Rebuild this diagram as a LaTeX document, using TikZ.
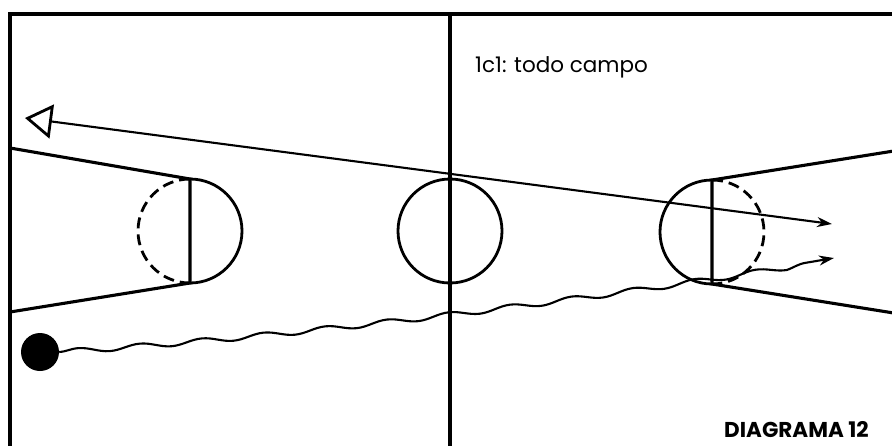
\documentclass[tikz,border=0pt]{standalone}
\usepackage{fontspec}
\setmainfont{Poppins}
\usetikzlibrary{arrows.meta,decorations.pathmorphing}

\begin{document}
\begin{tikzpicture}[x=1pt,y=-1pt,
    court/.style={line width=3.1pt},
    ring/.style={line width=2.8pt},
    halfdash/.style={ring,dash pattern=on 11pt off 6pt},
    pass/.style={line width=2.1pt},
    dribble/.style={line width=2.1pt,decorate,
        decoration={snake,amplitude=2.6pt,segment length=62pt,post length=14pt}}]
    \useasboundingbox (0,0) rectangle (892,445);

    \coordinate (topleft) at (10,14);
    \coordinate (topright) at (900,14);
    \coordinate (bottomleft) at (10,452);
    \coordinate (midtop) at (450,14);
    \coordinate (midbottom) at (450,452);

    \coordinate (lefttop) at (190,179);
    \coordinate (leftbottom) at (190,283);
    \coordinate (rightkeytop) at (712,180);
    \coordinate (rightkeybottom) at (712,284);

    \coordinate (passend) at (25,118);
    \coordinate (passtip) at (832,224);
    \coordinate (dribbletip) at (834,258);

    % court lines
    \draw[court] (bottomleft) -- (topleft) -- (topright);
    \draw[court] (midtop) -- (midbottom);

    % left key (y axis points down, so angles run the other way)
    \draw[court] (10,148) -- (lefttop) -- (leftbottom) -- (10,312);
    \draw[ring] (lefttop) arc[start angle=270,end angle=450,radius=52];
    \draw[halfdash] (lefttop) arc[start angle=270,end angle=90,radius=52];

    % centre circle
    \draw[ring] (450,231) circle (52);

    % right key
    \draw[court] (900,150) -- (rightkeytop) -- (rightkeybottom) -- (900,314);
    \draw[ring] (rightkeytop) arc[start angle=270,end angle=90,radius=52];
    \draw[halfdash] (rightkeytop) arc[start angle=270,end angle=450,radius=52];

    % player and ball
    \node[circle,fill=black,inner sep=0pt,minimum size=38pt] (player) at (40,352) {};

    \draw[pass,{Triangle[open,length=27pt,width=34pt,line width=2.8pt]}-{Stealth[length=15pt,width=10pt]}]
        (passend) -- (passtip);
    \draw[dribble,-{Stealth[length=15pt,width=10pt]}]
        (player.east) .. controls (300,336) and (600,298) .. (dribbletip);

    \node[anchor=base west,inner sep=0pt,font=\fontsize{21.5}{25}\selectfont] (title) at (475,72) {1c1: todo campo};
    \node[anchor=base west,inner sep=0pt,font=\bfseries\fontsize{21.5}{26}\selectfont] (caption) at (724,437) {DIAGRAMA 12};
\end{tikzpicture}
\end{document}
